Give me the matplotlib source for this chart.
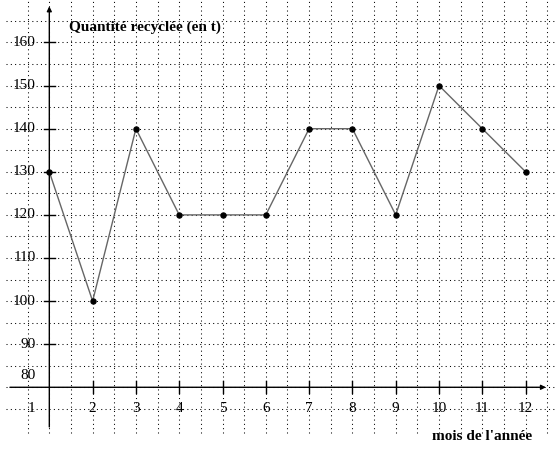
import matplotlib
matplotlib.use("Agg")
import matplotlib.pyplot as plt
import numpy as np

# ── data ────────────────────────────────────────────────────────────────────────
months = [1, 2, 3, 4, 5, 6, 7, 8, 9, 10, 11, 12]
quantity = [130, 100, 140, 120, 120, 120, 140, 140, 120, 150, 140, 130]
y_ticks = [90, 100, 110, 120, 130, 140, 150, 160]
x_ticks = [2, 3, 4, 5, 6, 7, 8, 9, 10, 11, 12]
title = "Quantité recyclée (en t)"
xlabel = "mois de l'année"

X0, Y0 = 1, 80  # origin of the axes

plt.rcParams["font.family"] = ["Liberation Serif", "DejaVu Serif"]
plt.rcParams["lines.scale_dashes"] = False

fig = plt.figure(figsize=(5.57, 4.49), dpi=100)
ax = fig.add_axes([0, 0, 1, 1])
ax.set_xlim(-0.139, 12.725)
ax.set_ylim(65.68, 169.86)
ax.axis("off")

# dotted grid
dots = dict(color="black", linewidth=0.75, linestyle=(0, (0.75, 2.35)), zorder=1)
for gx in np.arange(0.5, 12.51, 0.5):
    ax.plot([gx, gx], [69.5, 170], **dots)
for gy in np.arange(75, 166, 5):
    ax.plot([0.0, 12.65], [gy, gy], **dots)

# axes with arrows
ax.annotate("", xy=(12.47, Y0), xytext=(0.09, Y0),
            arrowprops=dict(arrowstyle="-|>", color="black", lw=1.0,
                            mutation_scale=7, shrinkA=0, shrinkB=0), zorder=3)
ax.annotate("", xy=(X0, 168.4), xytext=(X0, 70.8),
            arrowprops=dict(arrowstyle="-|>", color="black", lw=1.0,
                            mutation_scale=7, shrinkA=0, shrinkB=0), zorder=3)

# tick marks and labels
for t in x_ticks:
    ax.plot([t, t], [Y0 - 1.4, Y0 + 1.4], color="black", lw=1.0, zorder=3)
    ax.text(t, 75, str(t), ha="center", va="center", fontsize=11)
for t in y_ticks:
    ax.plot([X0 - 0.13, X0 + 0.13], [t, t], color="black", lw=1.0, zorder=3)
    ax.text(0.68, t, str(t), ha="right", va="center", fontsize=11)
ax.text(0.68, 75, str(X0), ha="right", va="center", fontsize=11)
ax.text(0.68, 82.8, str(Y0), ha="right", va="center", fontsize=11)

# series
ax.plot(months, quantity, color="#666666", lw=1.0, zorder=4)
ax.plot(months, quantity, "o", color="black", markersize=3.6, zorder=5)

ax.text(1.455, 163.6, title, ha="left", va="center", fontsize=11, fontweight="bold")
ax.text(11.0, 68.5, xlabel, ha="center", va="center", fontsize=11, fontweight="bold")

fig.savefig("out.png", dpi=100)
